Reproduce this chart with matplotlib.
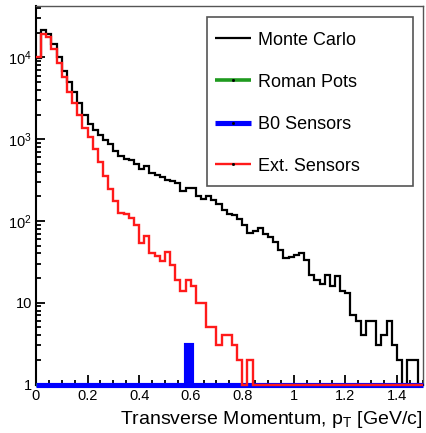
#!/usr/bin/env python3
"""Transverse momentum spectra: Monte Carlo vs far-forward detector acceptance."""

import matplotlib

matplotlib.use("Agg")
import matplotlib.pyplot as plt
import numpy as np
from matplotlib.patches import Rectangle
from matplotlib.ticker import (
    FixedFormatter,
    FixedLocator,
    FuncFormatter,
    LogLocator,
    MultipleLocator,
    NullFormatter,
)

plt.rcParams["font.family"] = ["Liberation Sans", "DejaVu Sans"]
plt.rcParams["mathtext.fontset"] = "custom"
plt.rcParams["mathtext.rm"] = "Liberation Sans"
plt.rcParams["mathtext.it"] = "Liberation Sans:italic"

# binning: 75 bins of 0.02 GeV/c
PT_MIN, PT_MAX, N_BINS = 0.0, 1.5, 75

# counts per bin
MC_COUNTS = [
    9800, 21400, 19500, 14500, 10000, 6900, 5000, 3800, 2750, 1950,
    1550, 1290, 1120, 980, 870, 725, 615, 575, 550, 500,
    436, 468, 389, 363, 347, 316, 309, 288, 234, 251,
    251, 204, 186, 204, 178, 162, 135, 123, 117, 107,
    89, 72, 76, 81, 69, 63, 55, 44, 35, 36,
    38, 41, 33, 22, 19, 17, 22, 16, 21, 14,
    13, 7, 6, 4, 6, 6, 3, 4, 6, 3,
    2, 0, 2, 2, 0,
]
RP_COUNTS = [0] * N_BINS
B0_COUNTS = [
    0, 0, 0, 0, 0, 0, 0, 0, 0, 0,
    0, 0, 0, 0, 0, 0, 0, 0, 0, 0,
    0, 0, 0, 0, 0, 0, 0, 0, 0, 3,
    0, 0, 0, 0, 0, 0, 0, 0, 0, 0,
    0, 0, 0, 0, 0, 0, 0, 0, 0, 0,
    0, 0, 0, 0, 0, 0, 0, 0, 0, 0,
    0, 0, 0, 0, 0, 0, 0, 0, 0, 0,
    0, 0, 0, 0, 0,
]
EXT_COUNTS = [
    10000, 19500, 17800, 12600, 8500, 5750, 3800, 2750, 1950, 1350,
    1070, 760, 525, 355, 245, 174, 126, 120, 110, 89,
    54, 65, 41, 37, 32, 42, 29, 19, 14, 19,
    16, 10, 10, 5, 5, 3, 4, 4, 3, 2,
    0, 2, 0, 0, 0, 0, 0, 0, 0, 0,
    0, 0, 0, 0, 0, 0, 0, 0, 0, 0,
    0, 0, 0, 0, 0, 0, 0, 0, 0, 0,
    0, 0, 0, 0, 0,
]

SERIES = [
    ("Monte Carlo", MC_COUNTS, "black", 1.6),
    ("Roman Pots", RP_COUNTS, "#1f9a1f", 2.6),
    ("B0 Sensors", B0_COUNTS, "#0000ff", 3.7),
    ("Ext. Sensors", EXT_COUNTS, "#ff1a1a", 1.7),
]

Y_MIN, Y_MAX = 1.0, 4.24e4


def draw_legend(ax):
    # ROOT-style TLegend box, placed in axes coordinates
    ax.add_patch(Rectangle((0.4414, 0.5244), 0.5343, 0.4457,
                           transform=ax.transAxes, facecolor="white",
                           edgecolor="#555555", linewidth=1.2, zorder=5,
                           clip_on=False))
    rows = [0.9147, 0.8045, 0.6917, 0.5818]
    for (label, _, color, lw), y in zip(SERIES, rows):
        ax.plot([0.4629, 0.5552], [y, y], color=color, linewidth=lw,
                transform=ax.transAxes, zorder=6, clip_on=False,
                solid_capstyle="butt")
        if label != "Monte Carlo":
            ax.plot([0.509], [y], marker="s", markersize=1.0, color="black",
                    transform=ax.transAxes, zorder=7, clip_on=False)
        ax.text(0.5741, y, label, fontsize=13, va="center_baseline",
                ha="left", transform=ax.transAxes, zorder=7)


def main():
    fig = plt.figure(figsize=(4.26, 4.33), dpi=100)
    ax = fig.add_axes([0.0845, 0.112, 0.9077, 0.874])

    edges = np.linspace(PT_MIN, PT_MAX, N_BINS + 1)
    for label, counts, color, lw in SERIES:
        counts = np.asarray(counts, dtype=float)
        # ROOT draws empty bins on the bottom of the log frame
        vals = np.where(counts > 0, counts, Y_MIN)
        ax.stairs(vals, edges, baseline=None, color=color, linewidth=lw,
                  clip_on=False, zorder=3)

    ax.set_yscale("log")
    ax.set_xlim(PT_MIN, PT_MAX)
    ax.set_ylim(Y_MIN, Y_MAX)

    ax.yaxis.set_major_locator(FixedLocator([1, 10, 100, 1e3, 1e4]))
    ax.yaxis.set_major_formatter(FixedFormatter(
        ["1", "10", r"$\mathregular{10^{2}}$", r"$\mathregular{10^{3}}$",
         r"$\mathregular{10^{4}}$"]))
    ax.yaxis.set_minor_locator(LogLocator(base=10, subs=np.arange(2, 10)))
    ax.yaxis.set_minor_formatter(NullFormatter())

    ax.xaxis.set_major_locator(FixedLocator(np.arange(0, 1.41, 0.2)))
    ax.xaxis.set_major_formatter(FuncFormatter(lambda v, _: f"{v:g}"))
    ax.xaxis.set_minor_locator(MultipleLocator(0.05))

    ax.tick_params(which="both", direction="in", top=False, right=False,
                   width=1.3, labelsize=10.5, pad=3)
    ax.tick_params(axis="y", which="major", length=6.5)
    ax.tick_params(axis="y", which="minor", length=3.4)
    ax.tick_params(axis="x", which="major", length=7.5)
    ax.tick_params(axis="x", which="minor", length=3.6)

    for side in ["left", "bottom"]:
        ax.spines[side].set_linewidth(1.5)
        ax.spines[side].set_color("black")
    for side in ["top", "right"]:
        ax.spines[side].set_linewidth(1.0)
        ax.spines[side].set_color("#555555")

    ax.set_xlabel(r"Transverse Momentum, p$_{\mathregular{T}}$ [GeV/c]",
                  fontsize=14, loc="right")
    ax.xaxis.set_label_coords(1.0, -0.065)

    draw_legend(ax)

    fig.savefig("out.png", dpi=100)
    plt.close(fig)


if __name__ == "__main__":
    main()
